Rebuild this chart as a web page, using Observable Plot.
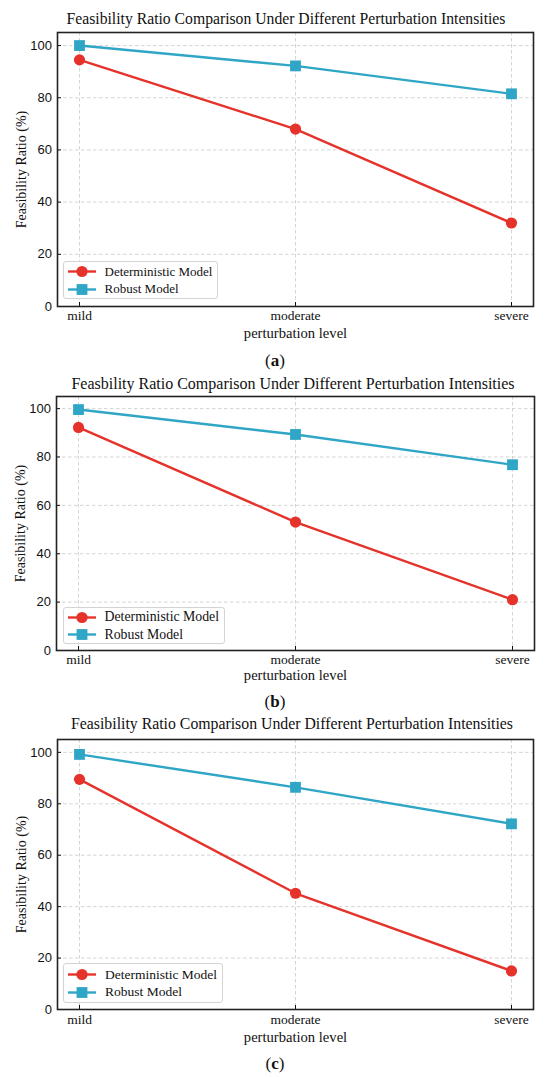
<!DOCTYPE html>
<html><head><meta charset="utf-8">
<script src="https://cdn.jsdelivr.net/npm/d3@7"></script>
<script src="https://cdn.jsdelivr.net/npm/@observablehq/plot@0.6"></script>
<style>
body{margin:0;background:#fff;}
#root{position:relative;width:550px;height:1077px;overflow:hidden;font-family:"Liberation Serif","Times New Roman",serif;color:#111;}
.abs{position:absolute;white-space:nowrap;line-height:1;}
.legend{position:absolute;border:1px solid #d4d4d4;border-radius:3px;background:rgba(255,255,255,0.85);box-sizing:border-box;}
.legend .row{position:absolute;left:0;display:flex;align-items:center;}
.legend svg{display:block;}
</style></head><body><div id="root"></div>
<script>
// ---- data ----
const levels = ["mild", "moderate", "severe"];
const seriesNames = ["Deterministic Model", "Robust Model"];
const yTicks = [0, 20, 40, 60, 80, 100];
const detA = [94.5, 68.0, 32.0];
const robA = [100.0, 92.2, 81.5];
const detB = [92.2, 53.1, 21.0];
const robB = [99.6, 89.3, 76.8];
const detC = [89.5, 45.2, 15.0];
const robC = [99.2, 86.4, 72.2];
const titles = [
  "Feasibility Ratio Comparison Under Different Perturbation Intensities",
  "Feasbility Ratio Comparison Under Different Perturbation Intensities",
  "Feasibility Ratio Comparison Under Different Perturbation Intensities"
];
const captions = ["a", "b", "c"];
const xLabel = "perturbation level";
const yLabel = "Feasibility Ratio (%)";

// ---- style / layout ----
const colors = ["#e5332c", "#2fa6c5"];
const serif = "Liberation Serif, Times New Roman, serif";
const sans = "Liberation Sans, Arial, sans-serif";
const layout = [
  {fl: 57, fr: 533, ft: 32, fb: 306, tx: 286, ty: 20, ts: 15.7, cy: 361, tp: 8.3, xo: 31, lg: {x: 62.5, y: 261, w: 155, h: 38, fs: 13}},
  {fl: 56, fr: 534, ft: 396, fb: 650, tx: 293, ty: 385, ts: 16, cy: 702, tp: 7.6, xo: 29.5, lg: {x: 62.5, y: 607, w: 162, h: 37, fs: 13.8}},
  {fl: 57, fr: 533, ft: 739, fb: 1009, tx: 292, ty: 725, ts: 15.8, cy: 1064, tp: 8.6, xo: 32, lg: {x: 63, y: 963, w: 160, h: 40, fs: 13.5}}
];
const dataSets = [[detA, robA], [detB, robB], [detC, robC]];

const root = document.getElementById("root");

dataSets.forEach(([det, rob], i) => {
  const L = layout[i];
  const rows = [];
  levels.forEach((lv, j) => {
    rows.push({level: lv, value: det[j], series: seriesNames[0]});
    rows.push({level: lv, value: rob[j], series: seriesNames[1]});
  });
  const mt = 4, mb = 50;
  const chart = Plot.plot({
    width: 550,
    height: L.fb - L.ft + mt + mb,
    marginLeft: L.fl, marginRight: 550 - L.fr, marginTop: mt, marginBottom: mb,
    x: {type: "point", domain: levels, padding: 0.1, label: null},
    y: {domain: [0, 105], label: null},
    color: {domain: seriesNames, range: colors},
    style: {background: "transparent", overflow: "visible"},
    marks: [
      Plot.gridY(yTicks, {stroke: "#c9c9c9", strokeOpacity: 1, strokeWidth: 0.8, strokeDasharray: "3.5,2.5"}),
      Plot.gridX(levels, {stroke: "#c9c9c9", strokeOpacity: 1, strokeWidth: 0.8, strokeDasharray: "3.5,2.5"}),
      Plot.axisY(yTicks, {tickSize: -4, tickPadding: 9.5, fontFamily: sans, fontSize: 13, fill: "#111", stroke: "#111", label: null}),
      Plot.axisY([], {tickSize: 0, label: yLabel, labelAnchor: "center", labelArrow: "none", labelOffset: 41, fontFamily: serif, fontSize: 14, fill: "#111"}),
      Plot.axisX(levels, {tickSize: -4, tickPadding: L.tp, fontFamily: serif, fontSize: 13.5, fill: "#111", stroke: "#111", label: null}),
      Plot.axisX([], {tickSize: 0, label: xLabel, labelAnchor: "center", labelArrow: "none", labelOffset: L.xo, fontFamily: serif, fontSize: 14.6, fill: "#111"}),
      Plot.line(rows, {x: "level", y: "value", z: "series", stroke: "series", strokeWidth: 2.4}),
      Plot.dot(rows.filter(d => d.series === seriesNames[0]), {x: "level", y: "value", fill: "series", r: 5.6, symbol: "circle"}),
      Plot.dot(rows.filter(d => d.series === seriesNames[1]), {x: "level", y: "value", fill: "series", r: 6.1, symbol: "square"}),
      Plot.frame({stroke: "#222", strokeWidth: 1.6})
    ]
  });
  chart.style.position = "absolute";
  chart.style.left = "0px";
  chart.style.top = (L.ft - mt) + "px";
  chart.style.maxWidth = "none";
  root.appendChild(chart);

  const t = document.createElement("div");
  t.className = "abs";
  t.textContent = titles[i];
  t.style.fontSize = L.ts + "px";
  t.style.left = L.tx + "px";
  t.style.top = L.ty + "px";
  t.style.transform = "translate(-50%,-55%)";
  root.appendChild(t);

  const c = document.createElement("div");
  c.className = "abs";
  c.innerHTML = "(<b>" + captions[i] + "</b>)";
  c.style.fontSize = "17px";
  c.style.left = "275px";
  c.style.top = L.cy + "px";
  c.style.transform = "translate(-50%,-55%)";
  root.appendChild(c);

  const lg = document.createElement("div");
  lg.className = "legend";
  Object.assign(lg.style, {left: L.lg.x + "px", top: L.lg.y + "px", width: L.lg.w + "px", height: L.lg.h + "px"});
  seriesNames.forEach((name, k) => {
    const row = document.createElement("div");
    row.className = "row";
    row.style.top = (L.lg.h / 2 - 17 + k * 17.5 - 1) + "px";
    row.style.height = "17px";
    const sw = d3.create("svg").attr("width", 41).attr("height", 17);
    sw.append("line").attr("x1", 4).attr("x2", 32).attr("y1", 8.5).attr("y2", 8.5)
      .attr("stroke", colors[k]).attr("stroke-width", 2.4);
    if (k === 0) sw.append("circle").attr("cx", 18).attr("cy", 8.5).attr("r", 5.6).attr("fill", colors[k]);
    else sw.append("rect").attr("x", 18 - 5.4).attr("y", 8.5 - 5.4).attr("width", 10.8).attr("height", 10.8).attr("fill", colors[k]);
    row.appendChild(sw.node());
    const tx = document.createElement("span");
    tx.textContent = name;
    tx.style.fontSize = L.lg.fs + "px";
    row.appendChild(tx);
    lg.appendChild(row);
  });
  root.appendChild(lg);
});
</script></body></html>
